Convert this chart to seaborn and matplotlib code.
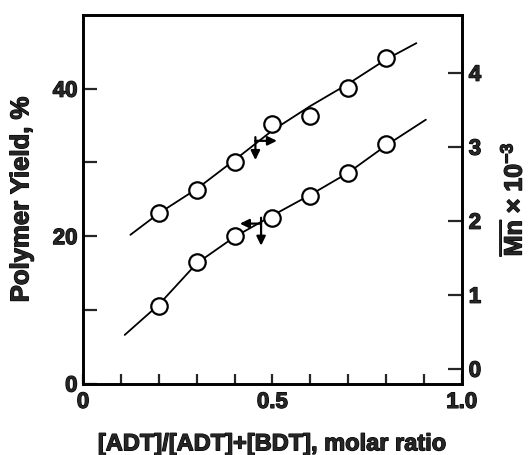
import matplotlib
matplotlib.use("Agg")
import matplotlib.pyplot as plt
import matplotlib.patheffects as pe
import seaborn as sns
import pandas as pd
from matplotlib.ticker import MultipleLocator, FixedLocator

# ---- data ----
ratio = [0.2, 0.3, 0.4, 0.5, 0.6, 0.7, 0.8]
mn = [2.10, 2.41, 2.80, 3.31, 3.41, 3.80, 4.20]          # Mn x 10^-3 (right axis)
yield_pct = [10.5, 16.5, 20.0, 22.5, 25.4, 28.5, 32.5]   # Polymer yield % (left axis)

# drawn fit curves
mn_curve_x = [0.125, 0.2, 0.3, 0.4, 0.5, 0.6, 0.7, 0.8, 0.88]
mn_curve_y = [1.81, 2.10, 2.43, 2.82, 3.22, 3.55, 3.85, 4.18, 4.40]
yield_curve_x = [0.11, 0.2, 0.3, 0.4, 0.5, 0.6, 0.7, 0.8, 0.905]
yield_curve_y = [6.6, 10.7, 16.3, 19.9, 22.8, 25.6, 28.6, 32.3, 35.8]

x_ticks = [0, 0.5, 1.0]
x_ticklabels = ["0", "0.5", "1.0"]
left_ticks = [0, 20, 40]
right_ticks = [0, 1, 2, 3, 4]

sns.set_theme(style="ticks")
plt.rcParams["font.family"] = ["Liberation Sans", "DejaVu Sans"]
plt.rcParams["font.weight"] = "bold"
plt.rcParams["mathtext.fontset"] = "custom"
plt.rcParams["mathtext.rm"] = "Liberation Sans:bold"
plt.rcParams["mathtext.bf"] = "Liberation Sans:bold"
plt.rcParams["mathtext.it"] = "Liberation Sans:bold"

heavy = [pe.withStroke(linewidth=0.9, foreground="black")]

fig = plt.figure(figsize=(5.29, 4.55), dpi=100)
ax = fig.add_axes([0.157, 0.157, 0.716, 0.810])
ax2 = ax.twinx()

df_pts = pd.DataFrame({"ratio": ratio, "mn": mn, "yield": yield_pct})
df_mn_c = pd.DataFrame({"x": mn_curve_x, "y": mn_curve_y})
df_y_c = pd.DataFrame({"x": yield_curve_x, "y": yield_curve_y})

lw = 1.3
ms = 140
sns.lineplot(data=df_y_c, x="x", y="y", ax=ax, color="black", lw=lw, zorder=2)
sns.scatterplot(data=df_pts, x="ratio", y="yield", ax=ax, marker="o", s=ms,
                facecolor="white", edgecolor="black", linewidth=1.6, zorder=3)
sns.lineplot(data=df_mn_c, x="x", y="y", ax=ax2, color="black", lw=lw, zorder=2)
sns.scatterplot(data=df_pts, x="ratio", y="mn", ax=ax2, marker="o", s=ms,
                facecolor="white", edgecolor="black", linewidth=1.6, zorder=3)

ax.set_xlim(0, 1.0)
ax.set_ylim(0, 50)
ax2.set_ylim(-0.2, 4.78)

ax.xaxis.set_major_locator(FixedLocator(x_ticks))
ax.set_xticklabels(x_ticklabels)
ax.xaxis.set_minor_locator(MultipleLocator(0.1))
ax.yaxis.set_major_locator(FixedLocator(left_ticks))
ax.yaxis.set_minor_locator(FixedLocator([10, 30]))
ax2.yaxis.set_major_locator(FixedLocator(right_ticks))

fs = 16
ax.tick_params(axis="x", which="both", direction="in", length=7, width=1.6,
               labelsize=fs, pad=6, top=False)
ax.tick_params(axis="y", which="both", direction="in", length=10, width=1.6,
               labelsize=fs, pad=4, right=False)
ax2.tick_params(axis="y", which="both", direction="in", length=10, width=1.6,
                labelsize=fs, pad=5)
for lab in ax.get_xticklabels() + ax.get_yticklabels() + ax2.get_yticklabels():
    lab.set_fontweight("bold")
    lab.set_path_effects(heavy)

for a in (ax, ax2):
    for sp in a.spines.values():
        sp.set_linewidth(1.9)
        sp.set_color("black")

ax.set_xlabel("[ADT]/[ADT]+[BDT], molar ratio", fontsize=17, fontweight="bold",
              labelpad=14, path_effects=heavy)
ax.set_ylabel("Polymer Yield, %", fontsize=18.5, fontweight="bold", labelpad=14,
              path_effects=heavy)
ax2.set_ylabel(r"$\overline{\mathrm{Mn}}$ × 10$^{\mathrm{-3}}$", fontsize=18,
               fontweight="bold", labelpad=12, path_effects=heavy)

# axis-indicator arrows
ap = dict(arrowstyle="-|>,head_length=0.45,head_width=0.22", color="black", lw=1.6,
          shrinkA=0, shrinkB=0)
ax2.annotate("", xy=(0.512, 3.08), xytext=(0.455, 3.08), arrowprops=ap)
ax2.annotate("", xy=(0.455, 2.82), xytext=(0.455, 3.13), arrowprops=ap)
ax.annotate("", xy=(0.414, 21.7), xytext=(0.470, 21.7), arrowprops=ap)
ax.annotate("", xy=(0.470, 18.7), xytext=(0.470, 22.5), arrowprops=ap)

fig.savefig("out.png", dpi=100)
